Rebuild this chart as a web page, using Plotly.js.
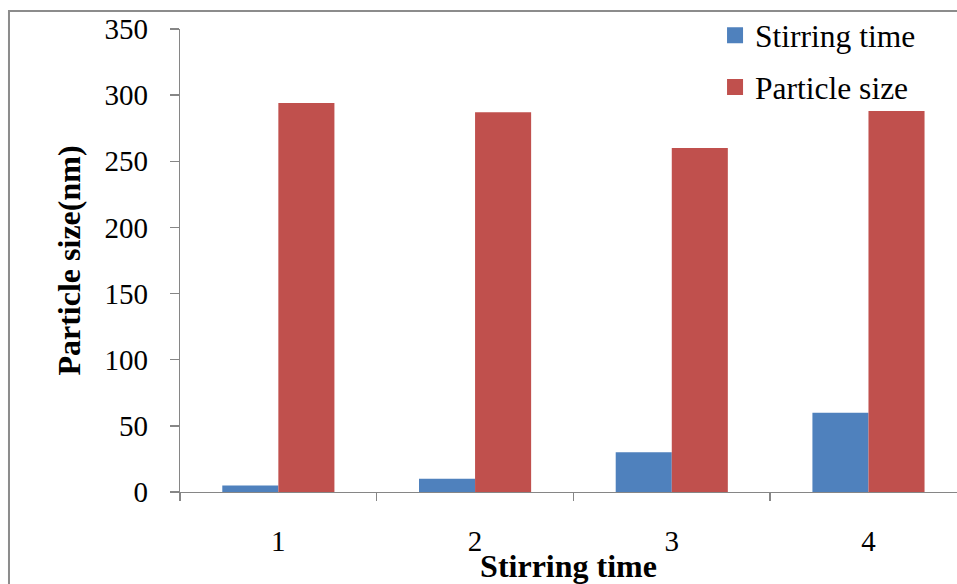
<!DOCTYPE html>
<html>
<head>
<meta charset="utf-8">
<script src="https://cdn.plot.ly/plotly-3.0.1.min.js"></script>
<style>html,body{margin:0;padding:0;background:#fff;}#chart{width:957px;height:584px;}</style>
</head>
<body>
<div id="chart"></div>
<script>
const categories = ["1", "2", "3", "4"];
const stirringTime = [5, 10, 30, 60];
const particleSize = [294, 287, 260, 288];
const yTicks = [0, 50, 100, 150, 200, 250, 300, 350];
const seriesNames = ["Stirring time", "Particle size"];
const seriesColors = ["#4F81BD", "#C0504D"];

const serif = "Liberation Serif, Times New Roman, serif";
const axisColor = "#868686";

const traces = [
  {type: "bar", name: seriesNames[0], x: categories, y: stirringTime,
   marker: {color: seriesColors[0], line: {width: 0}}, showlegend: false},
  {type: "bar", name: seriesNames[1], x: categories, y: particleSize,
   marker: {color: seriesColors[1], line: {width: 0}}, showlegend: false},
  // legend-only entries with larger square swatches
  {type: "scatter", mode: "markers", name: seriesNames[0], x: [categories[0]], y: [null],
   marker: {symbol: "square", size: 16, color: seriesColors[0]}, legendgroup: "a", hoverinfo: "skip"},
  {type: "scatter", mode: "markers", name: seriesNames[1], x: [categories[0]], y: [null],
   marker: {symbol: "square", size: 16, color: seriesColors[1]}, legendgroup: "b", hoverinfo: "skip"}
];

const layout = {
  width: 957, height: 584,
  margin: {l: 180, r: 0, t: 29, b: 92, pad: 0},
  paper_bgcolor: "#fff", plot_bgcolor: "#fff",
  barmode: "group", bargap: 0.43, bargroupgap: 0,
  font: {family: serif, color: "#000", size: 29},
  showlegend: true,
  legend: {x: 0.6886, y: 1.045, xanchor: "left", yanchor: "top",
           font: {family: serif, size: 31.5, color: "#000"},
           traceorder: "grouped", tracegroupgap: 8,
           bgcolor: "rgba(0,0,0,0)", itemwidth: 30},
  xaxis: {type: "category", range: [-0.5, 3.45], tickson: "boundaries",
          showline: true, linecolor: axisColor, linewidth: 1.3,
          ticks: "outside", ticklen: 8, tickcolor: axisColor, tickwidth: 1.3,
          showgrid: false, zeroline: false, ticklabelstandoff: 23,
          tickfont: {family: serif, size: 29},
          title: {text: "<b>Stirring time</b>", font: {family: serif, size: 32}, standoff: 6}},
  yaxis: {range: [0, 350], tickmode: "array", tickvals: yTicks, ticktext: yTicks.map(String),
          showline: true, linecolor: axisColor, linewidth: 1.3,
          ticks: "outside", ticklen: 9, tickcolor: axisColor, tickwidth: 1.3,
          showgrid: false, zeroline: false, ticklabelstandoff: 16,
          tickfont: {family: serif, size: 29},
          title: {text: "<b>Particle size(nm)</b>", font: {family: serif, size: 32}, standoff: 14}},
  shapes: [
    {type: "rect", xref: "paper", yref: "paper", x0: -0.2201, x1: 1.2, y0: -0.3, y1: 1.0389,
     line: {color: "#8c8c8c", width: 2}, fillcolor: "rgba(0,0,0,0)", layer: "below"}
  ]
};

Plotly.newPlot("chart", traces, layout, {displayModeBar: false, staticPlot: true});
</script>
</body>
</html>
